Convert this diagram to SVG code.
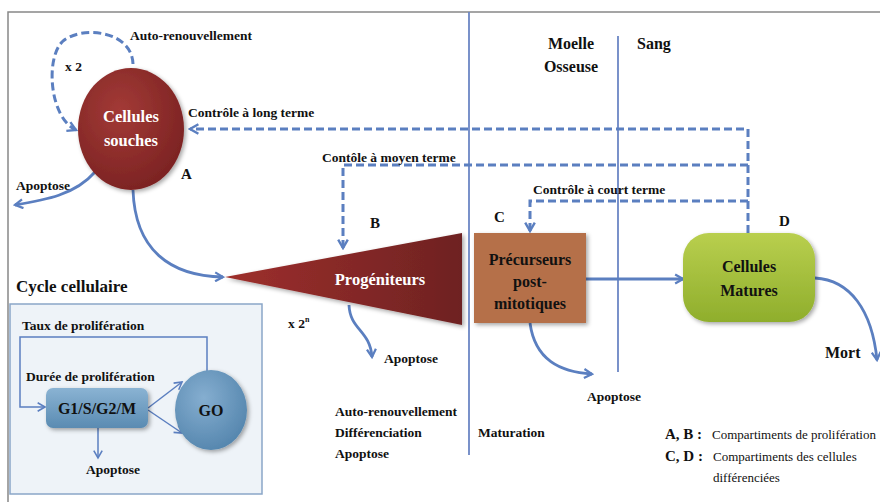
<svg xmlns="http://www.w3.org/2000/svg" width="880" height="502" viewBox="0 0 880 502" font-family="'Liberation Serif', 'Times New Roman', serif">
<defs>
<radialGradient id="gRed" cx="0.4" cy="0.35" r="0.7"><stop offset="0" stop-color="#a33a36"/><stop offset="1" stop-color="#7a2222"/></radialGradient>
<linearGradient id="gTri" x1="0" y1="0" x2="1" y2="0"><stop offset="0" stop-color="#9e2f2c"/><stop offset="1" stop-color="#6e2222"/></linearGradient>
<linearGradient id="gGreen" x1="0" y1="0" x2="0" y2="1"><stop offset="0" stop-color="#b9cf4e"/><stop offset="1" stop-color="#8fae2c"/></linearGradient>
<linearGradient id="gBlue" x1="0" y1="0" x2="0" y2="1"><stop offset="0" stop-color="#8ab3d3"/><stop offset="1" stop-color="#5a8bb2"/></linearGradient>
<radialGradient id="gGo" cx="0.4" cy="0.35" r="0.7"><stop offset="0" stop-color="#85aed0"/><stop offset="1" stop-color="#5485ad"/></radialGradient>
<marker id="ah" viewBox="0 0 10 10" refX="8" refY="5" markerWidth="4" markerHeight="4" orient="auto" markerUnits="strokeWidth"><path d="M1,1 L8,5 L1,9" fill="none" stroke="#5b7fc0" stroke-width="2"/></marker>
<marker id="ahs" viewBox="0 0 10 10" refX="8" refY="5" markerWidth="7" markerHeight="7" orient="auto" markerUnits="strokeWidth"><path d="M1,1 L8,5 L1,9" fill="none" stroke="#5b7fc0" stroke-width="1.5"/></marker>
<filter id="sh" x="-20%" y="-20%" width="140%" height="140%"><feDropShadow dx="2" dy="2" stdDeviation="2" flood-opacity="0.35"/></filter>
</defs>
<style>
text{font-family:'Liberation Serif','Times New Roman',serif;font-weight:bold;fill:#111}
.s{font-size:13.5px}
.m{font-size:15px}
.w{fill:#fff;font-size:16.5px}
.n{font-weight:normal;font-size:13px}
.dash{fill:none;stroke:#5b7fc0;stroke-width:3;stroke-dasharray:8 4}
.sol{fill:none;stroke:#5b7fc0;stroke-width:2.8}
.thin{fill:none;stroke:#5b7fc0;stroke-width:1.5}
.vl{stroke:#6b86c4;stroke-width:1.8}
</style>
<rect width="880" height="502" fill="#fff"/>
<path d="M8,502 V12 H880" fill="none" stroke="#888" stroke-width="1.5"/>
<line class="vl" x1="469" y1="12" x2="469" y2="455"/>
<line class="vl" x1="618" y1="36" x2="618" y2="372"/>

<g id="connectors">
<path class="dash" d="M133,64 C132,30 80,25 62,42 C45,60 50,118 76,130" marker-end="url(#ah)"/>
<path class="dash" d="M748,233 V129 H190" marker-end="url(#ah)"/>
<path class="dash" d="M748,165 H343 V248" marker-end="url(#ah)"/>
<path class="dash" d="M748,201 H530 V231" marker-end="url(#ah)"/>
<path class="sol" d="M95,172 C75,195 45,200 15,205" marker-end="url(#ah)"/>
<path class="sol" d="M133,190 C135,250 170,276 223,277" marker-end="url(#ah)"/>
<path class="sol" d="M349,305 C350,330 370,330 372,357" marker-end="url(#ah)"/>
<path class="sol" d="M530,323 C535,360 560,372 592,374" marker-end="url(#ah)"/>
<path class="sol" d="M586,279 H683" marker-end="url(#ah)"/>
<path class="sol" d="M815,278 C850,280 872,310 877,360" marker-end="url(#ah)"/>
</g>

<g id="node-souches">
<ellipse cx="131" cy="129" rx="53" ry="61" fill="url(#gRed)" filter="url(#sh)"/>
<text class="w" x="131" y="122" text-anchor="middle">Cellules</text>
<text class="w" x="131" y="146" text-anchor="middle">souches</text>
</g>

<g id="node-progeniteurs">
<polygon points="225,277 462,233 462,325" fill="url(#gTri)" filter="url(#sh)"/>
<text class="w" x="380" y="285" text-anchor="middle">Progéniteurs</text>
</g>

<g id="node-precurseurs">
<rect x="474" y="233" width="112" height="90" fill="#b56f4a" filter="url(#sh)"/>
<text class="m" x="530" y="265" text-anchor="middle" style="font-size:16px">Précurseurs</text>
<text class="m" x="530" y="287" text-anchor="middle" style="font-size:16px">post-</text>
<text class="m" x="530" y="309" text-anchor="middle" style="font-size:16px">mitotiques</text>
</g>

<g id="node-matures">
<rect x="683" y="233" width="132" height="89" rx="26" fill="url(#gGreen)" filter="url(#sh)"/>
<text class="m" x="749" y="272" text-anchor="middle" style="font-size:16px">Cellules</text>
<text class="m" x="749" y="296" text-anchor="middle" style="font-size:16px">Matures</text>
</g>

<g id="labels">
<text class="s" x="130" y="40">Auto-renouvellement</text>
<text class="s" x="65" y="71">x 2</text>
<text class="s" x="188" y="117">Contrôle à long terme</text>
<text class="s" x="322" y="162">Contôle à moyen terme</text>
<text class="s" x="533" y="194">Contrôle à court terme</text>
<text class="s" x="16" y="190">Apoptose</text>
<text class="m" x="181" y="179">A</text>
<text class="m" x="370" y="228">B</text>
<text class="m" x="494" y="222">C</text>
<text class="m" x="779" y="226">D</text>
<text class="m" x="571" y="49" text-anchor="middle" style="font-size:16px">Moelle</text>
<text class="m" x="571" y="72" text-anchor="middle" style="font-size:16px">Osseuse</text>
<text class="m" x="637" y="49" style="font-size:16px">Sang</text>
<text class="s" x="288" y="328">x 2<tspan font-size="8" dy="-6">n</tspan></text>
<text class="s" x="384" y="363">Apoptose</text>
<text class="s" x="587" y="401">Apoptose</text>
<text class="m" x="825" y="358" style="font-size:16px">Mort</text>
<text class="s" x="335" y="416">Auto-renouvellement</text>
<text class="s" x="335" y="437">Différenciation</text>
<text class="s" x="335" y="458">Apoptose</text>
<text class="s" x="478" y="437">Maturation</text>
<text class="m" x="665" y="439">A, B :</text>
<text class="n" x="712" y="439">Compartiments de prolifération</text>
<text class="m" x="665" y="461">C, D :</text>
<text class="n" x="713" y="461">Compartiments des cellules</text>
<text class="n" x="713" y="482">différenciées</text>
</g>

<g id="cycle">
<text x="16" y="292" style="font-size:17px">Cycle cellulaire</text>
<rect x="10" y="304" width="252" height="190" fill="#eef3f8" stroke="#8aa6c8" stroke-width="1.5"/>
<text class="s" x="22" y="330">Taux de prolifération</text>
<text class="s" x="26" y="381">Durée de prolifération</text>
<path class="thin" d="M207,371 V337 H20 V407 H45" marker-end="url(#ahs)"/>
<path class="thin" d="M148,408 L182,382" marker-end="url(#ahs)"/>
<path class="thin" d="M148,410 L182,433" marker-end="url(#ahs)"/>
<path class="thin" d="M98,428 V458" marker-end="url(#ahs)"/>
<g id="node-g1">
<rect x="46" y="388" width="102" height="40" rx="7" fill="url(#gBlue)" filter="url(#sh)"/>
<text class="m" x="97" y="414" text-anchor="middle" style="font-size:16px">G1/S/G2/M</text>
</g>
<g id="node-go">
<ellipse cx="211" cy="410" rx="36" ry="40" fill="url(#gGo)" filter="url(#sh)"/>
<text class="m" x="211" y="416" text-anchor="middle" style="font-size:16px">GO</text>
</g>
<text class="s" x="113" y="474" text-anchor="middle">Apoptose</text>
</g>
</svg>
